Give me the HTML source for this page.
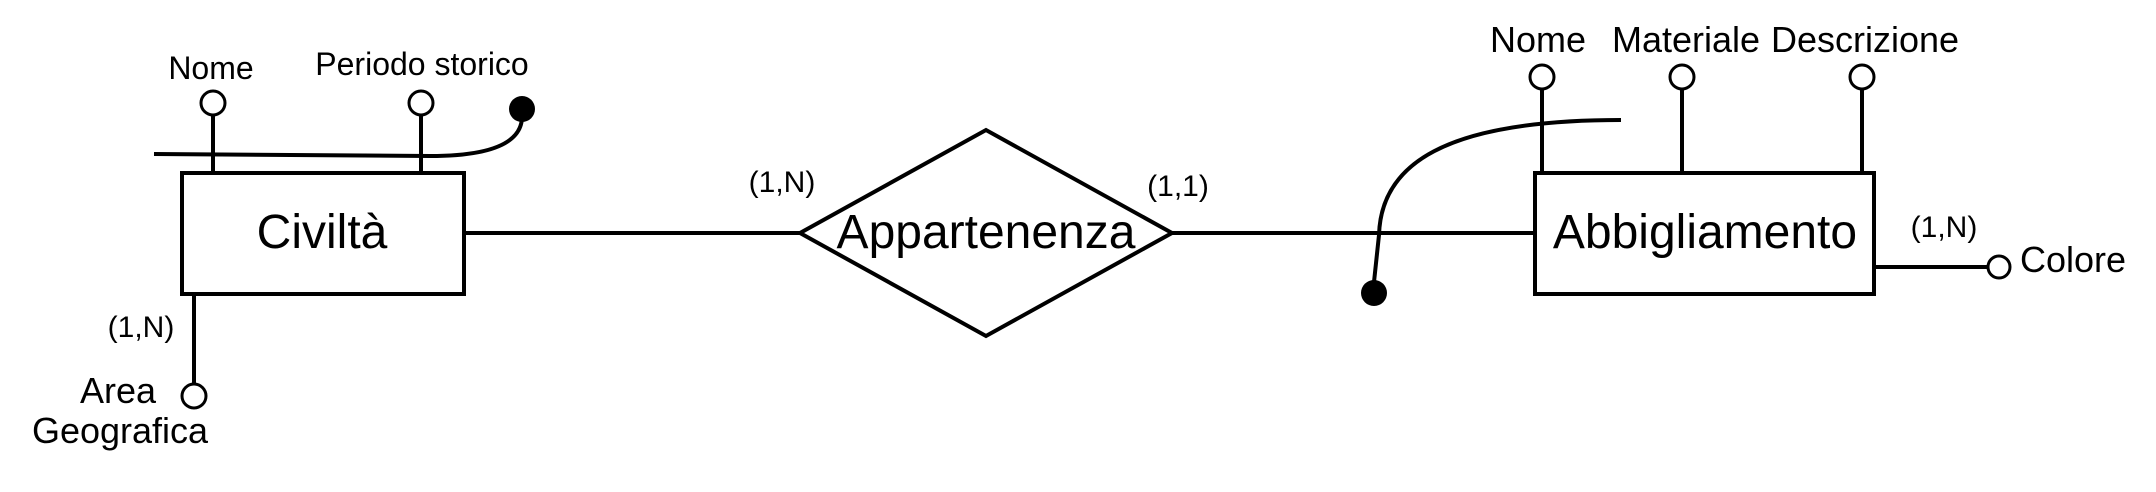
<!DOCTYPE html>
<html><head><meta charset="utf-8"><style>
html,body{margin:0;padding:0;background:#fff;}
svg{display:block;}
text{font-family:"Liberation Sans",Arial,sans-serif;fill:#000;}
</style></head><body>
<svg width="2156" height="492" viewBox="0 0 2156 492" stroke-linecap="butt">
<g fill="none" stroke="#000" stroke-width="4">
  <line x1="464" y1="233" x2="800" y2="233"/>
  <line x1="1172" y1="233" x2="1535" y2="233"/>
  <rect x="182" y="173" width="282" height="121" fill="#fff"/>
  <polygon points="800,233 986,130 1172,233 986,336" fill="#fff"/>
  <rect x="1535" y="173" width="339" height="121" fill="#fff"/>
  <line x1="213" y1="115" x2="213" y2="173"/>
  <line x1="421" y1="115" x2="421" y2="173"/>
  <path d="M154,154 L430,156 Q520,156 522,118"/>
  <line x1="194" y1="294" x2="194" y2="384"/>
  <line x1="1542" y1="89" x2="1542" y2="173"/>
  <line x1="1682" y1="89" x2="1682" y2="173"/>
  <line x1="1862" y1="89" x2="1862" y2="173"/>
  <path d="M1621,120 C1443,120 1381,165 1379,235 L1374,282"/>
  <line x1="1874" y1="267" x2="1988" y2="267"/>
</g>
<g fill="#fff" stroke="#000" stroke-width="3">
  <circle cx="213" cy="103" r="12"/>
  <circle cx="421" cy="103" r="12"/>
  <circle cx="194" cy="396" r="12"/>
  <circle cx="1542" cy="77" r="12"/>
  <circle cx="1682" cy="77" r="12"/>
  <circle cx="1862" cy="77" r="12"/>
  <circle cx="1999" cy="267" r="11"/>
</g>
<circle cx="522" cy="109" r="13" fill="#000"/>
<circle cx="1374" cy="293" r="13" fill="#000"/>
<g font-size="48" text-anchor="middle">
  <text x="322" y="248">Civiltà</text>
  <text x="986" y="248">Appartenenza</text>
  <text x="1705" y="248">Abbigliamento</text>
</g>
<g font-size="32" text-anchor="middle">
  <text x="211" y="79">Nome</text>
  <text x="422" y="75">Periodo storico</text>
</g>
<g font-size="36" text-anchor="middle">
  <text x="1538" y="52">Nome</text>
  <text x="1686" y="52">Materiale</text>
  <text x="1865" y="52">Descrizione</text>
  <text x="156" y="403" text-anchor="end">Area</text>
  <text x="120" y="443">Geografica</text>
  <text x="2020" y="272" text-anchor="start">Colore</text>
</g>
<g font-size="30" text-anchor="middle">
  <text x="782" y="192">(1,N)</text>
  <text x="1178" y="196">(1,1)</text>
  <text x="1944" y="237">(1,N)</text>
  <text x="141" y="337">(1,N)</text>
</g>
</svg>
</body></html>
